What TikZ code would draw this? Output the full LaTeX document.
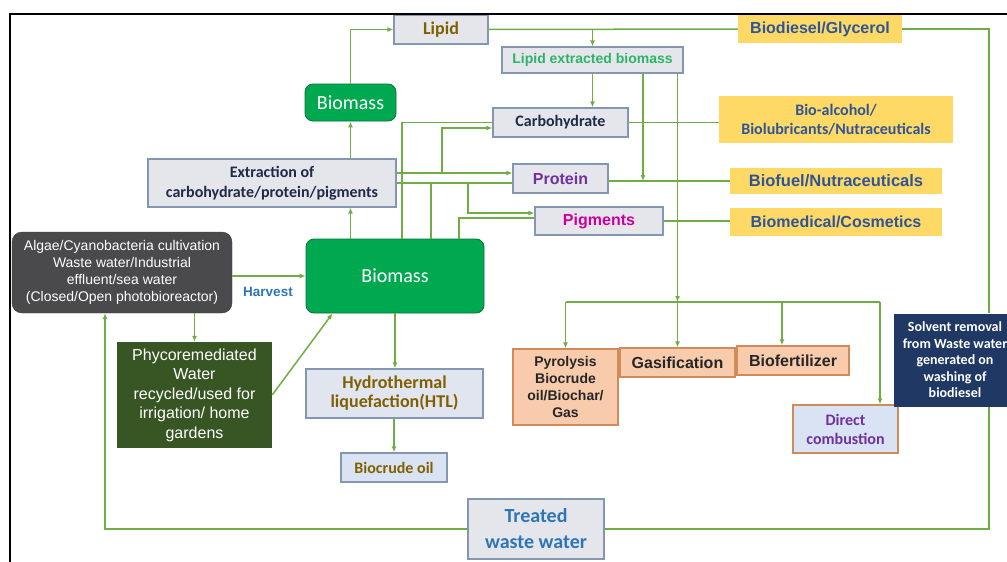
\documentclass[tikz,border=0pt]{standalone}
\usepackage{fontspec}
\setmainfont{Liberation Sans}
\newfontfamily\cali{Carlito}
\usetikzlibrary{arrows.meta}

\newcommand{\fsz}[2]{\fontsize{#1}{#2}\selectfont}

\definecolor{flowgreen}{HTML}{70AD47}
\definecolor{boxgray}{HTML}{E5E6EC}
\definecolor{boxedge}{HTML}{8497B0}
\definecolor{palblue}{HTML}{DAE3F3}
\definecolor{goldfill}{HTML}{FFD966}
\definecolor{goldtext}{HTML}{2F5597}
\definecolor{leafgreen}{HTML}{00A84F}
\definecolor{darkgray}{HTML}{4A4A4C}
\definecolor{mossgreen}{HTML}{375623}
\definecolor{navyfill}{HTML}{1F3864}
\definecolor{peach}{HTML}{F8CBAD}
\definecolor{peachedge}{HTML}{D08B5B}
\definecolor{brownt}{HTML}{7F6000}
\definecolor{navyt}{HTML}{1F2A48}
\definecolor{skyt}{HTML}{2E75B6}
\definecolor{purplet}{HTML}{7030A0}
\definecolor{magentat}{HTML}{CC0099}
\definecolor{mintt}{HTML}{2DB36A}

\begin{document}
\begin{tikzpicture}[x=1pt, y=-1pt,
  >={Latex[length=6pt,width=5pt]},
  flow/.style={draw=flowgreen, line width=1.5pt},
  box/.style={draw=boxedge, line width=1.2pt, fill=boxgray, inner sep=0pt, align=center},
  gold/.style={fill=goldfill, inner sep=0pt, align=center, text=goldtext},
  leaf/.style={fill=leafgreen, draw=leafgreen!70!black, line width=0.8pt, rounded corners=8pt,
    inner sep=0pt, text=white, font=\cali\fsz{20}{22}},
  peachbox/.style={draw=peachedge, line width=1.2pt, fill=peach, inner sep=0pt, align=center,
    text=black!85, font=\bfseries\fsz{16}{19}}]

  \useasboundingbox (0,0) rectangle (1007,562);

  % Top row: lipid branch
  \node[box, minimum width=94, minimum height=29, text=brownt, font=\cali\bfseries\fsz{18}{20}] (lipid) at (441,29.5) {Lipid};
  \node[gold, minimum width=164, minimum height=28, font=\bfseries\fsz{16}{19}] (biodiesel) at (820,29) {Biodiesel/Glycerol};
  \node[box, minimum width=181, minimum height=26, text=mintt, font=\bfseries\fsz{14}{16}] (lipidex) at (592.5,60) {Lipid extracted biomass};
  \node[leaf, minimum width=91, minimum height=37] (biomassS) at (350.5,102.5) {Biomass};

  % Extraction and its products
  \node[box, minimum width=248, minimum height=48, text=navyt, font=\cali\bfseries\fsz{16}{20}] (extract) at (272,183) {Extraction of\\carbohydrate/protein/pigments};
  \node[box, minimum width=135, minimum height=29, text=navyt, font=\cali\bfseries\fsz{16}{19}] (carb) at (560.5,122.5) {Carbohydrate};
  \node[box, minimum width=95, minimum height=29, text=purplet, font=\bfseries\fsz{16}{19}] (protein) at (560.5,178.5) {Protein};
  \node[box, minimum width=128, minimum height=28, text=magentat, font=\bfseries\fsz{16}{19}] (pigments) at (599,221) {Pigments};
  \node[gold, minimum width=234, minimum height=47, font=\cali\bfseries\fsz{16}{19}] (bioalc) at (836,119.5) {Bio-alcohol/\\Biolubricants/Nutraceuticals};
  \node[gold, minimum width=212, minimum height=26, font=\bfseries\fsz{16.5}{19}] (biofuel) at (836,181) {Biofuel/Nutraceuticals};
  \node[gold, minimum width=212, minimum height=28, font=\bfseries\fsz{16}{19}] (biomedical) at (836,222) {Biomedical/Cosmetics};

  % Cultivation and harvest
  \node[fill=darkgray, draw=darkgray!80!black, rounded corners=10pt, minimum width=220, minimum height=81,
    inner sep=0pt, align=center, text=white, font=\fsz{14}{17}] (algae) at (122,272.5)
    {Algae/Cyanobacteria cultivation\\Waste water/Industrial\\effluent/sea water\\(Closed/Open photobioreactor)};
  \node[leaf, minimum width=178, minimum height=74] (biomassL) at (395,276) {Biomass};
  \node[text=skyt, font=\bfseries\fsz{13.5}{16}] (harvest) at (268,292) {Harvest};
  \node[fill=mossgreen, minimum width=155, minimum height=106, inner sep=0pt, align=center,
    text=white, font=\fsz{16}{19.5}] (phyco) at (194.5,395)
    {Phycoremediated\\Water\\recycled/used for\\irrigation/ home\\gardens};
  \node[box, fill=boxgray!60!palblue, minimum width=177, minimum height=49, text=brownt, font=\cali\bfseries\fsz{18}{19}] (htl) at (394.5,393.5) {Hydrothermal\\liquefaction(HTL)};
  \node[box, fill=palblue, minimum width=106, minimum height=29, text=brownt, font=\cali\bfseries\fsz{16}{19}] (biocrude) at (394,467.5) {Biocrude oil};

  % Thermochemical routes
  \node[peachbox, minimum width=105, minimum height=76, font=\bfseries\fsz{14}{17}] (pyro) at (565.5,387) {Pyrolysis\\Biocrude\\oil/Biochar/\\Gas};
  \node[peachbox, minimum width=115, minimum height=29] (gasif) at (677.5,362.5) {Gasification};
  \node[peachbox, minimum width=112, minimum height=29] (biofert) at (793,360.5) {Biofertilizer};
  \node[peachbox, fill=palblue, minimum width=105, minimum height=48, text=purplet, font=\cali\bfseries\fsz{16}{19}] (direct) at (845.5,429) {Direct\\combustion};
  \node[fill=navyfill, minimum width=122, minimum height=93, inner sep=0pt, align=center,
    text=white, font=\cali\bfseries\fsz{14}{16.5}] (solvent) at (955,360)
    {Solvent removal\\from Waste water\\generated on\\washing of\\biodiesel};
  \node[box, minimum width=136, minimum height=60, text=skyt, font=\cali\bfseries\fsz{20}{26}] (treated) at (536,529) {Treated\\waste water};

  % Junction points
  \coordinate (j1) at (442,128);
  \coordinate (vpro) at (643,0);
  \coordinate (vbm1) at (402,0);
  \coordinate (vbm2) at (431,0);
  \coordinate (vbm3) at (459,0);
  \coordinate (vpig) at (468,0);
  \coordinate (split) at (0,302);
  \coordinate (vfert) at (782,0);
  \coordinate (vdir) at (880,0);
  \coordinate (rx) at (989,0);
  \coordinate (lx) at (105,0);

  % Lipid route
  \draw[flow, ->] (biomassS.north) |- (lipid.west);
  \draw[flow] (lipid.east) -- (biodiesel.west);
  \draw[flow, ->] (lipidex.north |- lipid.east) -- (lipidex.north);
  \draw[flow, ->] (lipidex.south) -- (lipidex.south |- carb.north);
  \draw[flow, ->] (vpro |- lipidex.south) -- (vpro |- biofuel.west);
  \draw[flow, ->] (gasif.north |- lipidex.south) -- (gasif.north |- split);

  % Extraction outputs
  \draw[flow, ->] (biomassL.north -| biomassS) -- (extract.south -| biomassS);
  \draw[flow, ->] (extract.north -| biomassS) -- (biomassS.south);
  \draw[flow, ->] ([yshift=10]extract.east) -| (j1) -- (j1 -| carb.west);
  \draw[flow, ->] ([yshift=10]extract.east) -- ([yshift=10]extract.east -| protein.west);
  \draw[flow] (extract.east) -- (extract.east -| protein.west);
  \draw[flow, ->] (vpig |- extract.east) |- ([yshift=8]pigments.west);
  \draw[flow] (vbm1 |- biomassL.north) |- (carb.west);
  \draw[flow] (vbm2 |- biomassL.north) -- (vbm2 |- extract.east);
  \draw[flow] (vbm3 |- biomassL.north) |- ([yshift=3]pigments.west);
  \draw[flow] (carb.east) -- (carb.east -| bioalc.west);
  \draw[flow] (biofuel.west -| protein.east) -- (biofuel.west);
  \draw[flow] (pigments.east) -- (pigments.east -| biomedical.west);

  % Thermochemical branches
  \draw[flow] (pyro.north |- split) -- (vdir |- split);
  \draw[flow, ->] (pyro.north |- split) -- (pyro.north);
  \draw[flow, ->] (gasif.north |- split) -- (gasif.north);
  \draw[flow, ->] (vfert |- split) -- (vfert |- biofert.north);
  \draw[flow, ->] (vdir |- split) -- (vdir |- direct.north);

  % Cultivation loop
  \draw[flow, ->] (biomassL.west -| algae.east) -- (biomassL.west);
  \draw[flow, ->] (algae.south -| phyco.north) -- (phyco.north);
  \draw[flow, ->] (phyco.east) -- ([xshift=27]biomassL.south west);
  \draw[flow, ->] (biomassL.south) -- (biomassL.south |- htl.north);
  \draw[flow, ->] (htl.south -| biocrude.north) -- (biocrude.north);
  \draw[flow] (biodiesel.east) -| (rx |- solvent.north);
  \draw[flow] (rx |- solvent.south) |- (treated.east);
  \draw[flow, ->] (treated.west) -| (lx |- algae.south);

  % Frame
  \draw[line width=2.5pt] (10,562) -- (10,14) -- (1007,14);
\end{tikzpicture}
\end{document}
